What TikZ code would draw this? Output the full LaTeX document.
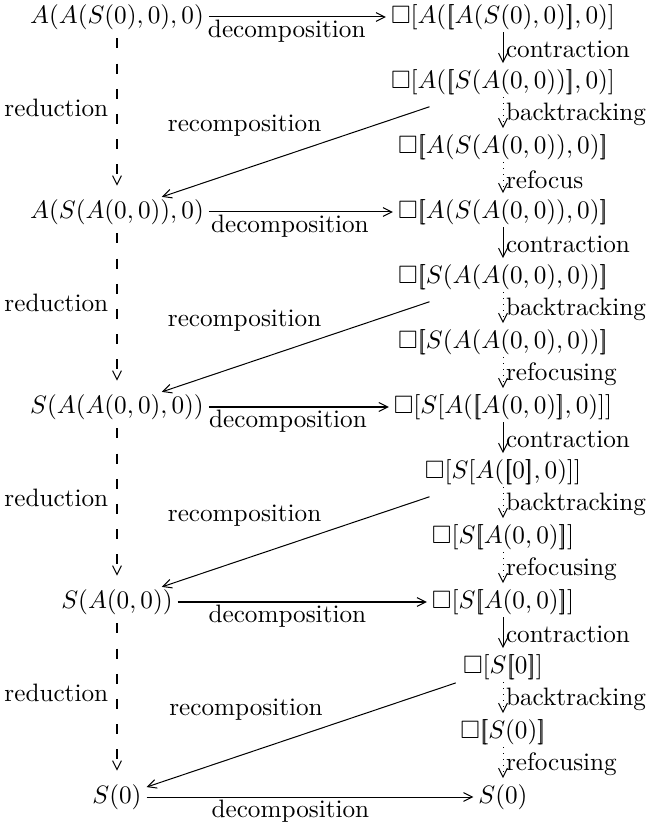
\documentclass[tikz,border=0pt]{standalone}
\usepackage{amssymb}
\usetikzlibrary{arrows.meta}

\newcommand{\lsem}{\mathopen{[\mkern-4mu[}}
\newcommand{\rsem}{\mathclose{]\mkern-4mu]}}

\tikzset{
  term/.style={inner xsep=2pt,inner ysep=1pt,outer sep=0pt},
  steplabel/.style={right,inner sep=1pt},
  downstep/.style={->,shorten >=1.5pt},
  reduce/.style={->,shorten <=2.5pt,shorten >=4.5pt,dash pattern=on 4pt off 6pt},
  decolabel/.style={below,inner sep=1pt,pos=0.44},
  recolabel/.style={anchor=south east,inner sep=0pt,yshift=2.5pt}
}

\begin{document}
\begin{tikzpicture}[x=0.397pt,y=-0.397pt,>={Straight Barb[length=3.5pt,width=3.5pt]}]

\useasboundingbox (0,0) rectangle (646,836);

%Terms of the reduction sequence in the left column
	\foreach \j/\t in {0/{A(A(S(0),0),0)},1/{A(S(A(0,0)),0)},2/{S(A(A(0,0),0))},3/{S(A(0,0))},4/{S(0)}}
		\node[term] (l\j) at (117,{17+195*\j}) {$\t$};

%Decomposed terms in the right column, one row every 65 units
	\foreach \k/\t in {0/{\Box[A(\lsem A(S(0),0)\rsem,0)]},
		1/{\Box[A(\lsem S(A(0,0))\rsem,0)]},
		2/{\Box\lsem A(S(A(0,0)),0)\rsem},
		3/{\Box\lsem A(S(A(0,0)),0)\rsem},
		4/{\Box\lsem S(A(A(0,0),0))\rsem},
		5/{\Box\lsem S(A(A(0,0),0))\rsem},
		6/{\Box[S[A(\lsem A(0,0)\rsem,0)]]},
		7/{\Box[S[A(\lsem 0\rsem,0)]]},
		8/{\Box[S\lsem A(0,0)\rsem]},
		9/{\Box[S\lsem A(0,0)\rsem]},
		10/{\Box[S\lsem 0\rsem]},
		11/{\Box\lsem S(0)\rsem},
		12/{S(0)}}
		\node[term] (r\k) at (503,{17+65*\k}) {$\t$};

%The three steps down the right column after each decomposition
	\foreach \i/\refname in {0/refocus,3/refocusing,6/refocusing,9/refocusing}
		{
		\pgfmathtruncatemacro\ra{\i+1}
		\pgfmathtruncatemacro\rb{\i+2}
		\pgfmathtruncatemacro\rc{\i+3}
		\draw[downstep] (r\i) -- node[steplabel] {contraction} (r\ra);
		\draw[downstep,dotted] (r\ra) -- node[steplabel] {backtracking} (r\rb);
		\draw[downstep,dotted] (r\rb) -- node[steplabel] {\refname} (r\rc);
	}

%Reduction, decomposition and recomposition between the two columns
	\foreach \j/\cut/\p in {0/12pt/0.46,1/12pt/0.46,2/12pt/0.46,3/1pt/0.433}
		{
		\pgfmathtruncatemacro\lb{\j+1}
		\pgfmathtruncatemacro\rt{3*\j}
		\pgfmathtruncatemacro\rr{3*\j+1}
		\draw[reduce] (l\j) -- node[left,pos=0.46] {reduction} (l\lb);
		\draw[->] (l\j) -- node[decolabel] {decomposition} (r\rt);
		\draw[->,shorten <=\cut] (r\rr) -- node[recolabel,pos=\p] {recomposition} (l\lb);
	}
	\draw[->] (l4) -- node[decolabel] {decomposition} (r12);

\end{tikzpicture}
\end{document}
